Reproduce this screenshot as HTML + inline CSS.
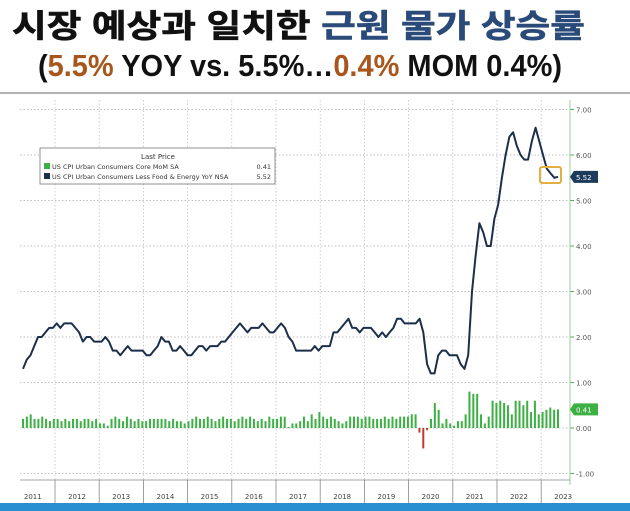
<!DOCTYPE html>
<html><head><meta charset="utf-8"><style>
html,body{margin:0;padding:0;background:#fff;width:630px;height:511px;overflow:hidden}
svg{display:block}
</style></head><body>
<svg width="630" height="511" viewBox="0 0 630 511" xmlns="http://www.w3.org/2000/svg">
<text x="12" y="37" font-family="'Liberation Sans','Noto Sans CJK KR',sans-serif" font-weight="bold" font-size="32" textLength="573" lengthAdjust="spacingAndGlyphs" fill="#111" stroke="#111" stroke-width="0.6">시장 예상과 일치한 <tspan fill="#2a4a7a" stroke="#2a4a7a">근원 물가 상승률</tspan></text>
<text x="38" y="76" font-family="'Liberation Sans',sans-serif" font-weight="bold" font-size="31" textLength="524" lengthAdjust="spacingAndGlyphs" fill="#111">(<tspan fill="#a8561c">5.5%</tspan> YOY vs. 5.5%…<tspan fill="#a8561c">0.4%</tspan> MOM 0.4%)</text>
<line x1="0" y1="93" x2="630" y2="93" stroke="#999" stroke-width="1.5"/>
<g id="grid"></g>
<g id="bars"></g>
<g id="line"></g>
<g id="axis"></g>
<g id="xaxis"></g>
<rect x="540" y="167" width="21" height="16" fill="none" stroke="#e0b040" stroke-width="2" rx="2"/>
<g>
<rect x="40" y="148" width="235" height="36" fill="#fff" stroke="#777" stroke-width="0.8"/>
<text x="158" y="159" font-family="'DejaVu Sans',sans-serif" font-size="7" text-anchor="middle" fill="#333">Last Price</text>
<rect x="44" y="163" width="6" height="6" fill="#3cb043"/>
<text x="52" y="169" font-family="'DejaVu Sans',sans-serif" font-size="6.5" fill="#333">US CPI Urban Consumers Core MoM SA</text>
<text x="271" y="169" font-family="'DejaVu Sans',sans-serif" font-size="6.5" text-anchor="end" fill="#333">0.41</text>
<rect x="44" y="173" width="6" height="6" fill="#1c2f4a"/>
<text x="52" y="179" font-family="'DejaVu Sans',sans-serif" font-size="6.5" fill="#333">US CPI Urban Consumers Less Food &amp; Energy YoY NSA</text>
<text x="271" y="179" font-family="'DejaVu Sans',sans-serif" font-size="6.5" text-anchor="end" fill="#333">5.52</text>
</g>
<rect x="0" y="503" width="630" height="8" fill="#2a8fd0"/>
<script>
const yoyValues=[1.3,1.5,1.6,1.8,2.0,2.0,2.1,2.2,2.2,
2.3,2.2,2.3,2.3,2.3,2.2,2.1,1.9,2.0,2.0,1.9,1.9,
1.9,2.0,1.9,1.7,1.7,1.6,1.7,1.8,1.7,1.7,1.7,1.7,
1.6,1.6,1.7,1.8,2.0,1.9,1.9,1.7,1.7,1.8,1.7,1.6,
1.6,1.7,1.8,1.8,1.7,1.8,1.8,1.8,1.9,1.9,2.0,2.1,
2.2,2.3,2.2,2.1,2.2,2.2,2.2,2.3,2.2,2.1,2.1,2.2,
2.3,2.2,2.0,1.9,1.7,1.7,1.7,1.7,1.7,1.8,1.7,1.8,
1.8,1.8,2.1,2.1,2.2,2.3,2.4,2.2,2.2,2.1,2.2,2.2,
2.2,2.1,2.0,2.1,2.0,2.1,2.2,2.4,2.4,2.3,2.3,2.3,
2.3,2.4,2.1,1.4,1.2,1.2,1.6,1.7,1.7,1.6,1.6,1.6,
1.4,1.3,1.6,3.0,3.8,4.5,4.3,4.0,4.0,4.6,4.9,5.5,
6.0,6.4,6.5,6.2,6.0,5.9,5.9,6.3,6.6,6.3,6.0,5.7,
5.6,5.5,5.52];
const momValues=[0.2,0.25,0.3,0.2,0.2,0.25,0.2,0.15,0.2,
0.2,0.15,0.2,0.15,0.2,0.2,0.15,0.2,0.2,0.15,0.2,0.1,
0.1,0.05,0.2,0.25,0.2,0.15,0.25,0.2,0.15,0.2,0.15,0.15,
0.2,0.2,0.2,0.2,0.2,0.15,0.2,0.15,0.15,0.1,0.15,0.2,
0.25,0.2,0.2,0.25,0.2,0.15,0.2,0.25,0.2,0.2,0.15,0.2,
0.25,0.2,0.25,0.2,0.15,0.2,0.15,0.25,0.2,0.2,0.25,0.25,
0.02,0.1,0.1,0.15,0.25,0.15,0.3,0.2,0.35,0.25,0.2,0.25,
0.2,0.15,0.1,0.15,0.25,0.25,0.25,0.2,0.25,0.25,0.2,0.2,
0.2,0.25,0.2,0.25,0.2,0.25,0.25,0.25,0.3,0.3,
-0.1,-0.45,-0.05,0.2,0.55,0.4,0.1,0.2,0.1,0.05,0.15,
0.15,0.3,0.8,0.75,0.75,0.3,0.1,0.25,0.6,0.55,0.6,
0.55,0.5,0.3,0.6,0.6,0.5,0.6,0.35,0.6,0.3,0.35,
0.4,0.45,0.4,0.41];
const yTicks=[7,6,5,4,3,2,1,0,-1];
const yearLabels=["2011","2012","2013","2014","2015","2016","2017","2018","2019","2020","2021","2022","2023"];
const NS="http://www.w3.org/2000/svg";
const x0=23,x1=558;
function xScale(i,n){return x0+(x1-x0)*i/(n-1);}
function yScale(v){return 428-45.5*v;}
function yearX(y){return 10.8+44.2*(y-2011);}
function mk(tag,attrs,parent){const e=document.createElementNS(NS,tag);for(const k in attrs)e.setAttribute(k,attrs[k]);parent.appendChild(e);return e;}
const grid=document.getElementById('grid'),axis=document.getElementById('axis'),xa=document.getElementById('xaxis');
yTicks.forEach(v=>{
 const l=mk('line',{x1:20,x2:570,y1:yScale(v),y2:yScale(v),stroke:'#aaa','stroke-width':0.7,'stroke-dasharray':'1.5,2'},grid);
 
 
 mk('line',{x1:570,x2:574,y1:yScale(v),y2:yScale(v),stroke:'#4caf50','stroke-width':1},axis);
 const tx=mk('text',{x:576,y:yScale(v)+3,'font-family':'DejaVu Sans,sans-serif','font-size':7,fill:'#555'},axis);
 tx.textContent=v.toFixed(2);
 
 
});
mk('line',{x1:570,x2:570,y1:100,y2:485,stroke:'#9ccc9c','stroke-width':1},axis);
for(let y=2012;y<=2023;y++){
 const gx=yearX(y);
 const g=mk('line',{x1:gx,x2:gx,y1:100,y2:480,stroke:'#bbb','stroke-width':0.7,'stroke-dasharray':'1.5,2'},grid);
 
 
 mk('line',{x1:gx,x2:gx,y1:480,y2:503,stroke:'#888','stroke-width':0.8},xa);
}
mk('line',{x1:20,x2:570,y1:480,y2:480,stroke:'#888','stroke-width':0.8},xa);
yearLabels.forEach((lab,i)=>{
 const t=mk('text',{x:yearX(2011+i)+22,y:499,'font-family':'DejaVu Sans,sans-serif','font-size':7,'text-anchor':'middle',fill:'#444'},xa);
 t.textContent=lab;
 
 
});
const bars=document.getElementById('bars');
momValues.forEach((v,i)=>{
 const x=xScale(i,momValues.length);
 const y=Math.min(yScale(v),yScale(0)),h=Math.abs(yScale(v)-yScale(0));
 const r=mk('rect',{x:x-1,y:y,width:2,height:Math.max(h,0.5),fill:v<0?'#c0392b':'#3cb043'},bars);
 
 
});
const pts=yoyValues.map((v,i)=>xScale(i,yoyValues.length).toFixed(1)+','+yScale(v).toFixed(1)).join(' ');
const pl=mk('polyline',{points:pts,fill:'none',stroke:'#1c2f4a','stroke-width':2,'stroke-linejoin':'round'},document.getElementById('line'));


function tag(v,color){
 const y=yScale(v);
 const g=mk('g',{},axis);
 
 
 mk('path',{d:`M570 ${y} L574 ${y-6} L598 ${y-6} L598 ${y+6} L574 ${y+6} Z`,fill:color},g);
 const t=mk('text',{x:576,y:y+3,'font-family':'DejaVu Sans,sans-serif','font-size':7,fill:'#fff'},g);
 t.textContent=v.toFixed(2);
}
tag(yoyValues[yoyValues.length-1],'#1c3a5a');
tag(momValues[momValues.length-1],'#3cb043');
</script>
</svg>
</body></html>
